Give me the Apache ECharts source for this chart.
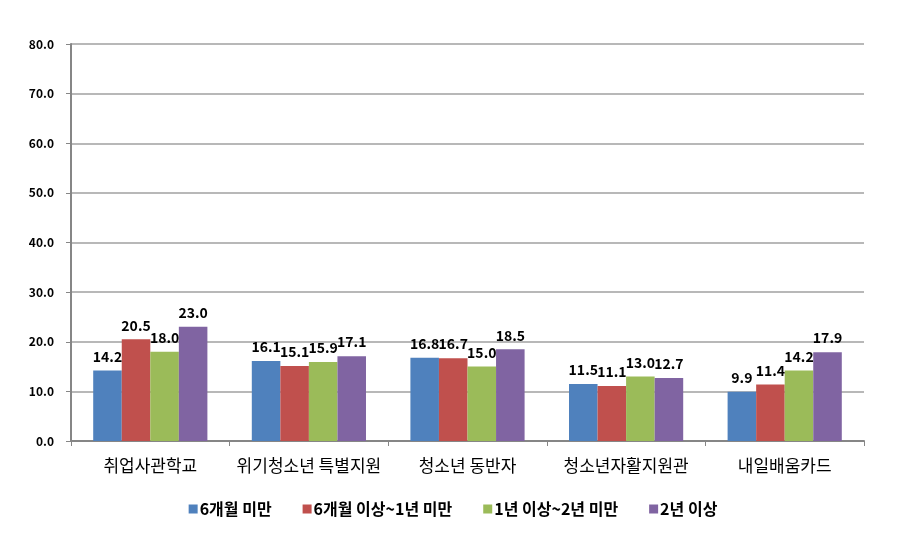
<!DOCTYPE html>
<html><head><meta charset="utf-8">
<script src="https://cdn.jsdelivr.net/npm/echarts@6/dist/echarts.min.js"></script>
<style>html,body{margin:0;padding:0;background:#fff}#c{width:906px;height:555px}</style>
</head><body><div id="c"></div>
<script>
var categories = ['취업사관학교', '위기청소년 특별지원', '청소년 동반자', '청소년자활지원관', '내일배움카드'];
var seriesNames = ['6개월 미만', '6개월 이상~1년 미만', '1년 이상~2년 미만', '2년 이상'];
var s1 = [14.2, 16.1, 16.8, 11.5, 9.9];
var s2 = [20.5, 15.1, 16.7, 11.1, 11.4];
var s3 = [18.0, 15.9, 15.0, 13.0, 14.2];
var s4 = [23.0, 17.1, 18.5, 12.7, 17.9];
var colors = ['#4F81BD', '#C0504D', '#9BBB59', '#8064A2'];
var font = '"Noto Sans CJK KR", "Noto Sans", sans-serif';
var data = [s1, s2, s3, s4];
var chart = echarts.init(document.getElementById('c'), null, {renderer: 'canvas'});
chart.setOption({
  animation: false,
  color: colors,
  grid: {left: 71, right: 42, top: 44, bottom: 114},
  legend: {
    bottom: 33, left: 'center', itemWidth: 9, itemHeight: 9, itemGap: 31, icon: 'rect',
    textStyle: {fontFamily: font, fontWeight: 'bold', fontSize: 16, color: '#000', padding: [0, 0, 0, -3]},
    data: seriesNames
  },
  xAxis: {
    type: 'category', data: categories,
    axisLine: {lineStyle: {color: '#868686', width: 2}},
    axisTick: {show: true, length: 5, lineStyle: {color: '#868686', width: 1}},
    axisLabel: {interval: 0, fontFamily: font, fontSize: 17, color: '#000', margin: 16}
  },
  yAxis: {
    type: 'value', min: 0, max: 80, interval: 10,
    axisLine: {show: true, lineStyle: {color: '#868686', width: 2}},
    axisTick: {show: true, length: 5, lineStyle: {color: '#868686'}},
    splitLine: {lineStyle: {color: '#A0A0A0', width: 1.5}},
    axisLabel: {fontFamily: font, fontWeight: 'bold', fontSize: 12, color: '#000', margin: 17,
      formatter: function (v) { return v.toFixed(1); }}
  },
  series: data.map(function (d, i) {
    return {
      name: seriesNames[i], type: 'bar', data: d,
      barGap: '0%', barCategoryGap: '28%',
      label: {show: true, position: 'top', distance: 7, fontFamily: font, fontWeight: 'bold', fontSize: 14, color: '#000',
        formatter: function (p) { return p.value.toFixed(1); }}
    };
  })
});
</script></body></html>
